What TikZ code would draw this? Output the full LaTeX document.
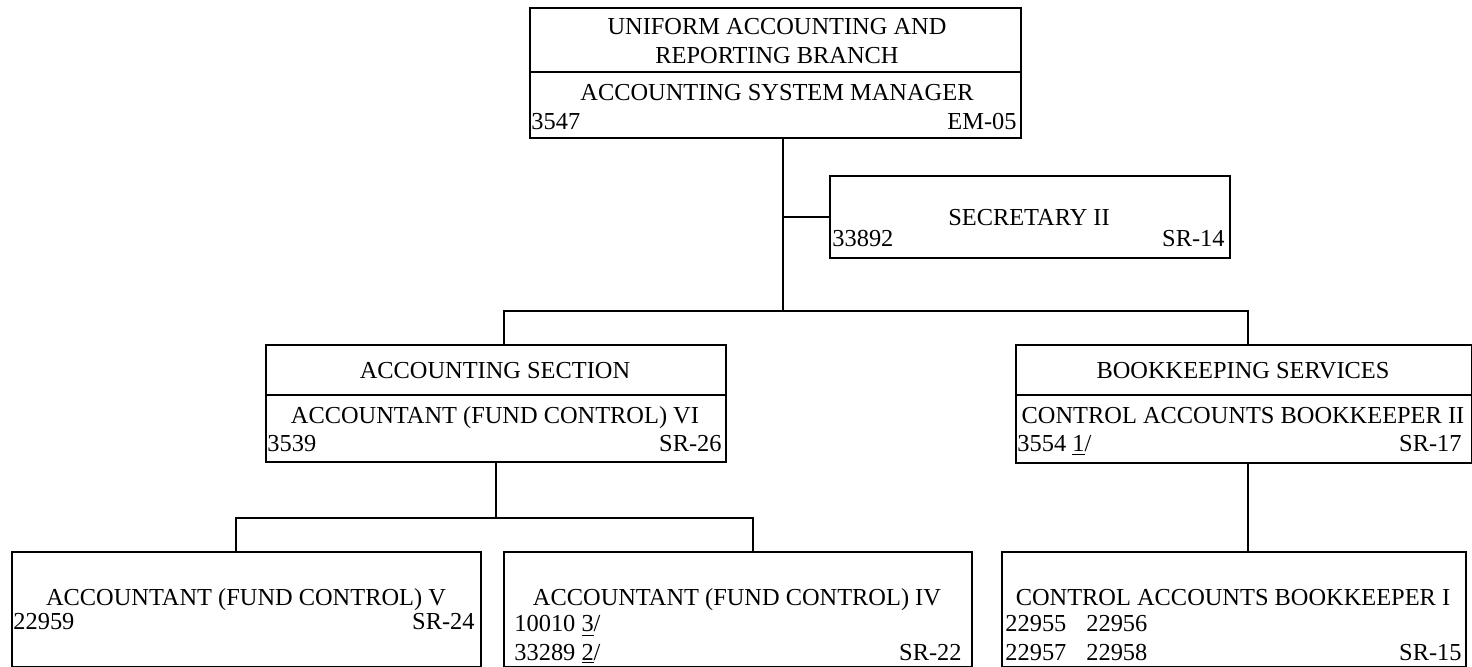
\documentclass[tikz,border=0pt]{standalone}
\usepackage{fontspec}
\setmainfont{Liberation Serif}
\usetikzlibrary{positioning}
\tikzset{
  box/.style={draw, line width=1pt, rectangle, inner sep=0pt, anchor=north west},
  ctr/.style={inner sep=0pt, anchor=base, font=\fontsize{12.2}{14}\selectfont},
  lft/.style={ctr, anchor=base west},
  rgt/.style={ctr, anchor=base east},
  link/.style={line width=1pt}
}

\begin{document}
\begin{tikzpicture}[x=0.5pt,y=-0.5pt]
\useasboundingbox (0,0) rectangle (1472,667);

% boxes
\node[box, minimum width=245.5pt, minimum height=65pt] (top) at (529,7) {};
\node[box, minimum width=200pt, minimum height=41pt] (sec) at (829,175) {};
\node[box, minimum width=230pt, minimum height=58.5pt] (acc) at (265,344) {};
\node[box, minimum width=228pt, minimum height=59pt] (bk) at (1015,344) {};
\node[box, minimum width=234.5pt, minimum height=57.5pt] (v) at (11,551) {};
\node[box, minimum width=234pt, minimum height=57.5pt] (iv) at (503,551) {};
\node[box, minimum width=232pt, minimum height=57.5pt] (bki) at (1001,551) {};

% dividers
\draw[link] (top.west |- 0,72) -- (top.east |- 0,72);
\draw[link] (acc.west |- 0,395) -- (acc.east |- 0,395);
\draw[link] (bk.west |- 0,395) -- (bk.east |- 0,395);

% branch
\node[ctr] (topA) at (777,35) {UNIFORM ACCOUNTING AND};
\node[ctr] (topB) at (777,64) {REPORTING BRANCH};
\node[ctr] (topC) at (777,101) {ACCOUNTING SYSTEM MANAGER};
\node[lft] (topNo) at (531,130) {3547};
\node[rgt] (topGr) at (1017,130) {EM-05};

% secretary
\node[ctr] (secA) at (1029,226) {SECRETARY II};
\node[lft] (secNo) at (832,247) {33892};
\node[rgt] (secGr) at (1225,247) {SR-14};

% sections
\node[ctr] (accA) at (495,379) {ACCOUNTING SECTION};
\node[ctr] (accB) at (495,424) {ACCOUNTANT (FUND CONTROL) VI};
\node[lft] (accNo) at (267,452) {3539};
\node[rgt] (accGr) at (722,452) {SR-26};

\node[ctr] (bkA) at (1243,379) {BOOKKEEPING SERVICES};
\node[ctr] (bkB) at (1243,424) {CONTROL ACCOUNTS BOOKKEEPER II};
\node[lft] (bkNo) at (1017,452) {3554 \underline{1}/};
\node[rgt] (bkGr) at (1462,452) {SR-17};

% bottom row
\node[ctr] (vA) at (246,605) {ACCOUNTANT (FUND CONTROL) V};
\node[lft] (vNo) at (13,630) {22959};
\node[rgt] (vGr) at (475,630) {SR-24};

\node[ctr] (ivA) at (737,605) {ACCOUNTANT (FUND CONTROL) IV};
\node[lft] (ivNo) at (514,632) {10010 \underline{3}/};
\node[lft] (ivNo2) at (514,660) {33289 \underline{2}/};
\node[rgt] (ivGr) at (962,660) {SR-22};

\node[ctr] (bkiA) at (1233,605) {CONTROL ACCOUNTS BOOKKEEPER I};
\node[lft] (bkiNo) at (1005,632) {22955\hspace{10pt}22956};
\node[lft] (bkiNo2) at (1005,660) {22957\hspace{10pt}22958};
\node[rgt] (bkiGr) at (1462,660) {SR-15};

% connectors
\coordinate (trunk) at (783,311);
\coordinate (barL) at (504,311);
\coordinate (barR) at (1248,311);
\coordinate (lowL) at (236,518);
\coordinate (lowR) at (753,518);

\draw[link] (top.south -| trunk) -- (trunk);
\draw[link] (sec.west) -- (sec.west -| trunk);
\draw[link] (acc.north -| barL) -- (barL) -- (barR) -- (bk.north -| barR);
\draw[link] (acc.south) -- (acc.south |- lowL);
\draw[link] (v.north -| lowL) -- (lowL) -- (lowR) -- (iv.north -| lowR);
\draw[link] (bk.south -| barR) -- (bki.north -| barR);

\end{tikzpicture}
\end{document}
